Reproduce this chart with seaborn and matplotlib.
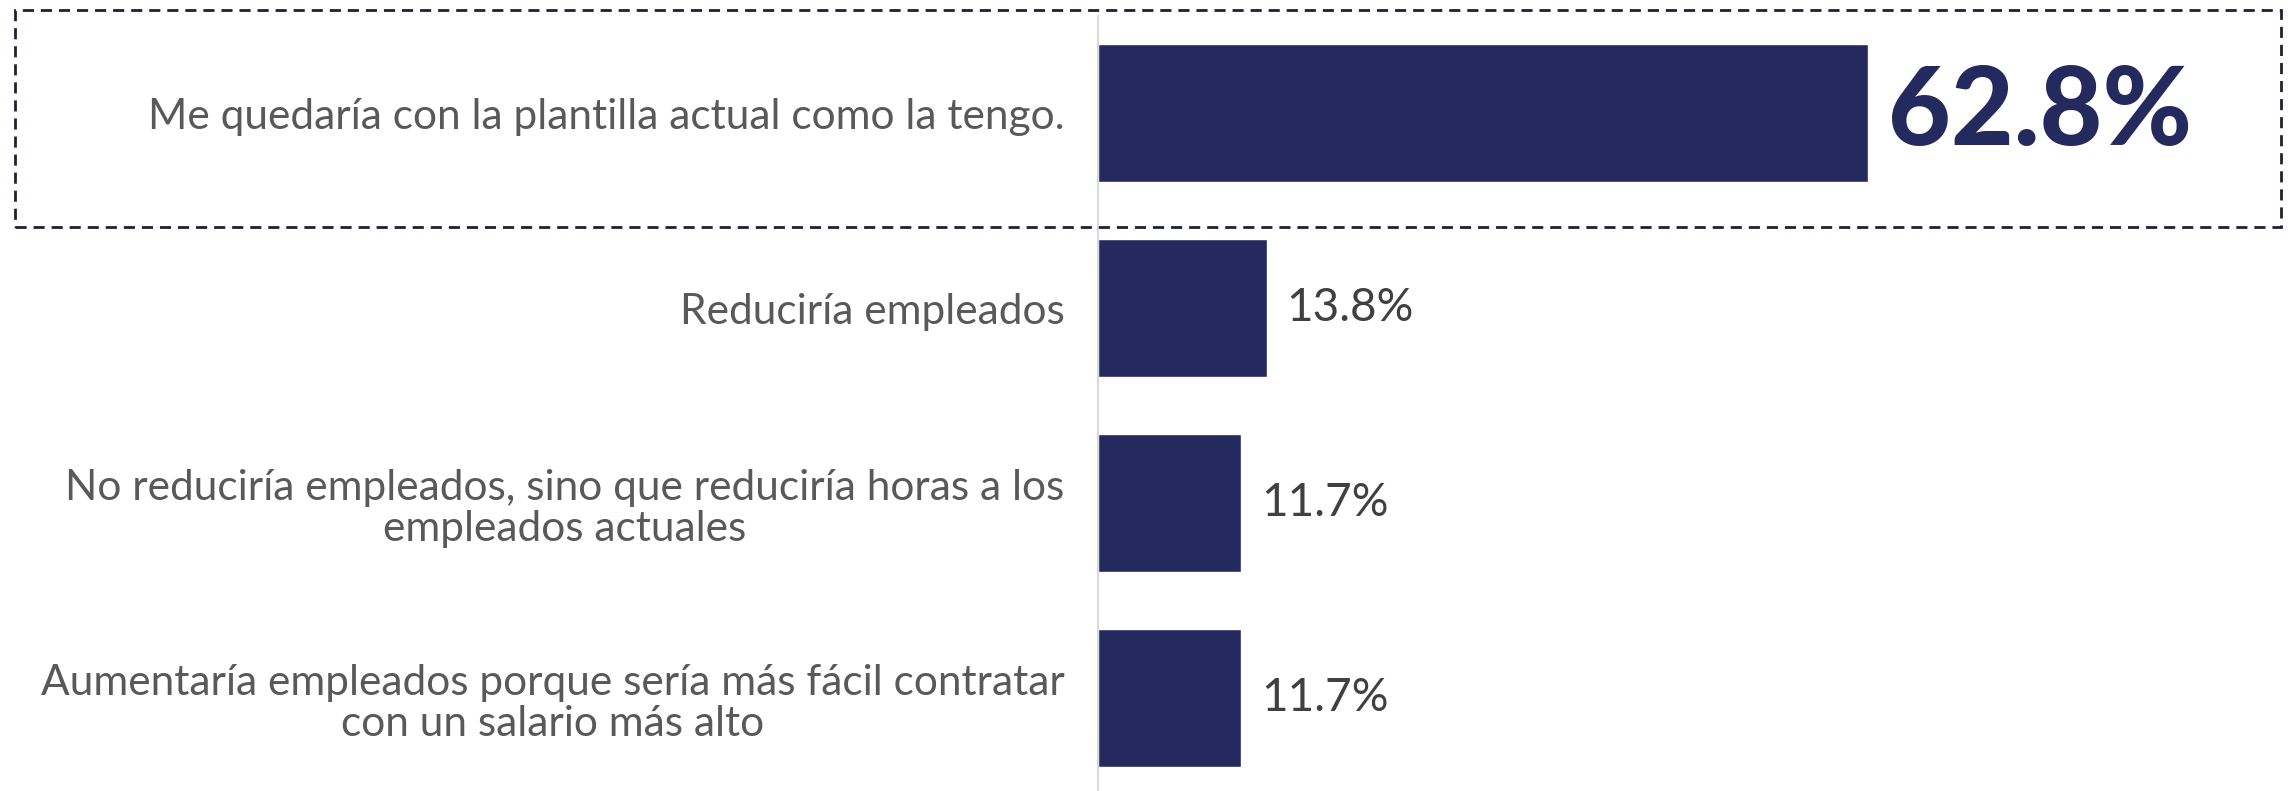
import matplotlib
matplotlib.use("Agg")
import matplotlib.pyplot as plt
import seaborn as sns
import pandas as pd
from matplotlib.patches import Rectangle

# data
categories = ['Me quedaría con la plantilla actual como la tengo.',
              'Reduciría empleados',
              'No reduciría empleados, sino que reduciría horas a los\nempleados actuales',
              'Aumentaría empleados porque sería más fácil contratar\ncon un salario más alto']
values = [62.8, 13.8, 11.7, 11.7]
value_labels = ['62.8%', '13.8%', '11.7%', '11.7%']

df = pd.DataFrame({'cat': categories, 'val': values})

sns.set_style("white")
plt.rcParams['font.family'] = ['Lato', 'DejaVu Sans']

navy = '#252a5e'
fig = plt.figure(figsize=(22.95, 7.91), dpi=100)
ax = fig.add_axes([0.4784, 0.0, 0.5216, 0.980])

sns.barplot(data=df, y='cat', x='val', orient='h', color=navy, saturation=1,
            width=0.71, ax=ax)
ax.set_xlim(0, 97.6)
ax.set_ylim(3.477, -0.5)
ax.set_xlabel('')
ax.set_ylabel('')
ax.set_xticks([])
for s in ['top', 'right', 'bottom']:
    ax.spines[s].set_visible(False)
ax.spines['left'].set_color('#d9d9d9')
ax.spines['left'].set_linewidth(1.5)
ax.tick_params(axis='y', length=0, pad=24)
for t in ax.get_yticklabels():
    t.set_fontsize(30.5)
    t.set_color('#595959')
    t.set_multialignment('center')
    t.set_linespacing(1.1)

# value labels
bars = ax.containers[0]
texts = ax.bar_label(bars, labels=value_labels, padding=14, fontsize=33, color='#404040')
texts[0].set_fontsize(78)
texts[0].set_fontweight('black')
texts[0].set_color(navy)

# dashed highlight box around first row
box = Rectangle((0.0065, 0.713), 0.9874, 0.2744, transform=fig.transFigure,
                fill=False, edgecolor='#1e2036', linewidth=2,
                linestyle=(0, (4, 2.5)), clip_on=False)
fig.patches.append(box)

plt.savefig('out.png', dpi=100)
